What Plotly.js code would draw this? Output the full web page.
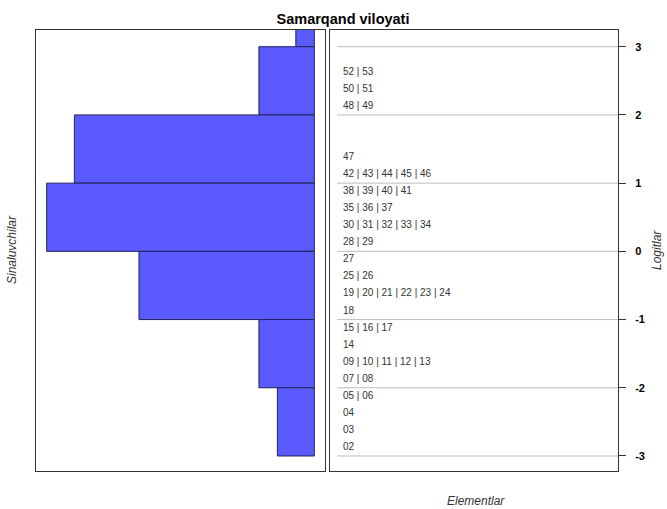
<!DOCTYPE html>
<html>
<head>
<meta charset="utf-8">
<script src="https://cdn.plot.ly/plotly-3.0.1.min.js"></script>
<style>body{margin:0;padding:0;background:#fff;} #chart{width:667px;height:509px;}</style>
</head>
<body>
<div id="chart"></div>
<script>
// Person (Sinaluvchilar) histogram: bin centres (logits) and counts
var binCenters = [3.5, 2.5, 1.5, 0.5, -0.5, -1.5, -2.5];
var binCounts  = [2, 6, 26, 29, 19, 6, 4];

// Item (Elementlar) labels and their logit positions
var itemLabels = [
  "52 | 53", "50 | 51", "48 | 49", "47", "42 | 43 | 44 | 45 | 46",
  "38 | 39 | 40 | 41", "35 | 36 | 37", "30 | 31 | 32 | 33 | 34", "28 | 29",
  "27", "25 | 26", "19 | 20 | 21 | 22 | 23 | 24", "18", "15 | 16 | 17", "14",
  "09 | 10 | 11 | 12 | 13", "07 | 08", "05 | 06", "04", "03", "02"
];
var itemLogits = [
  2.625, 2.375, 2.125, 1.375, 1.125,
  0.875, 0.625, 0.375, 0.125,
  -0.125, -0.375, -0.625, -0.875, -1.125, -1.375,
  -1.625, -1.875, -2.125, -2.375, -2.625, -2.875
];

// Logit tick values
var logitTicks = [-3, -2, -1, 0, 1, 2, 3];

var W = 667, H = 509;
var yDom = [(H - 471) / H, (H - 30) / H];
var yRange = [-3.22, 3.245];
var maxCount = Math.max.apply(null, binCounts);

var lineX = [], lineY = [];
logitTicks.forEach(function (v) {
  lineX.push(0.025, 1, null);
  lineY.push(v, v, null);
});

var traces = [
  {
    type: 'bar', orientation: 'h',
    x: binCounts, y: binCenters, width: 1,
    xaxis: 'x', yaxis: 'y',
    marker: { color: '#5A5AFF', line: { color: '#22225a', width: 1 } },
    hoverinfo: 'skip'
  },
  {
    type: 'scatter', mode: 'lines',
    x: lineX, y: lineY, xaxis: 'x2', yaxis: 'y2',
    line: { color: '#bdbdbd', width: 1 },
    hoverinfo: 'skip', connectgaps: false
  },
  {
    type: 'scatter', mode: 'text',
    x: itemLabels.map(function () { return 0.045; }),
    y: itemLogits, text: itemLabels,
    textposition: 'middle right',
    textfont: { family: 'Liberation Sans, Arial, sans-serif', size: 10, color: '#333333' },
    xaxis: 'x2', yaxis: 'y2', hoverinfo: 'skip'
  }
];

var layout = {
  width: W, height: H,
  margin: { l: 0, r: 0, t: 0, b: 0 },
  paper_bgcolor: '#ffffff', plot_bgcolor: '#ffffff',
  showlegend: false,
  font: { family: 'Liberation Sans, Arial, sans-serif', color: '#000' },
  title: {
    text: 'Samarqand viloyati',
    font: { size: 14.5, weight: 'bold', color: '#000' },
    x: 343 / W, xanchor: 'center', y: 1 - 19 / H, yanchor: 'middle'
  },
  xaxis: {
    domain: [36 / W, 325 / W], range: [maxCount * 1.04, -maxCount * 0.04],
    showgrid: false, zeroline: false, showticklabels: false, ticks: '',
    showline: true, mirror: true, linecolor: '#333', linewidth: 1, anchor: 'y'
  },
  yaxis: {
    domain: yDom, range: yRange, anchor: 'x',
    showgrid: false, zeroline: false, showticklabels: false, ticks: '',
    showline: true, mirror: true, linecolor: '#333', linewidth: 1
  },
  xaxis2: {
    domain: [330 / W, 618 / W], range: [0, 1], anchor: 'y2',
    showgrid: false, zeroline: false, showticklabels: false, ticks: '',
    showline: true, mirror: true, linecolor: '#333', linewidth: 1
  },
  yaxis2: {
    domain: yDom, range: yRange, anchor: 'x2', side: 'right',
    showgrid: false, zeroline: false,
    tickvals: logitTicks, ticktext: logitTicks.map(String),
    ticks: 'outside', ticklen: 7, tickcolor: '#333', tickwidth: 1,
    ticklabelstandoff: 7,
    tickfont: { size: 11, weight: 'bold', color: '#000' },
    showline: true, mirror: true, linecolor: '#333', linewidth: 1
  },
  annotations: [
    { text: 'Sinaluvchilar', xref: 'paper', yref: 'paper', x: 12 / W, y: 1 - 250 / H,
      showarrow: false, textangle: -90, font: { size: 12, style: 'italic', color: '#333' },
      xanchor: 'center', yanchor: 'middle' },
    { text: 'Logitlar', xref: 'paper', yref: 'paper', x: 657 / W, y: 1 - 250 / H,
      showarrow: false, textangle: -90, font: { size: 12, style: 'italic', color: '#333' },
      xanchor: 'center', yanchor: 'middle' },
    { text: 'Elementlar', xref: 'paper', yref: 'paper', x: 476 / W, y: 1 - 501 / H,
      showarrow: false, font: { size: 12, style: 'italic', color: '#333' },
      xanchor: 'center', yanchor: 'middle' }
  ]
};

Plotly.newPlot('chart', traces, layout, { staticPlot: true, displayModeBar: false });
</script>
</body>
</html>
